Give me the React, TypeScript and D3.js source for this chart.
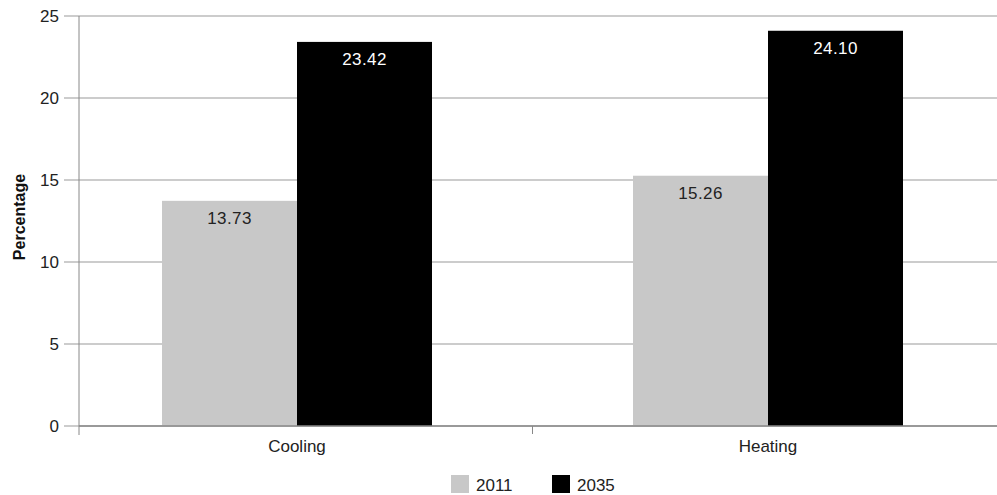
import React from "react";
import * as d3 from "d3";

const categories = ["Cooling", "Heating"];
const series = ["2011", "2035"];
const values2011 = [13.73, 15.26];
const values2035 = [23.42, 24.1];
const yTicks = [0, 5, 10, 15, 20, 25];
const colors = ["#c8c8c8", "#000000"];

export default function App() {
  const W = 997, H = 495;
  const left = 79, right = 997, top = 16, bottom = 426;
  const y = d3.scaleLinear().domain([0, 25]).range([bottom, top]);
  const x = d3.scaleBand().domain(categories).range([61.5, 1003.5]).padding(0);
  const barW = 135;
  const font = "'Liberation Sans', Arial, sans-serif";
  const vals = [values2011, values2035];
  return (
    <svg width={W} height={H} style={{ position: "absolute", left: 0, top: 0, fontFamily: font }}>
      {yTicks.map((t) => (
        <g key={t}>
          <line x1={64} x2={right} y1={y(t)} y2={y(t)} stroke="#999" strokeWidth={1} />
          <text x={59} y={y(t)} dy="0.35em" textAnchor="end" fontSize={17} fill="#222">{t}</text>
        </g>
      ))}
      {categories.map((c, i) => {
        const cx = (x(c) as number) + x.bandwidth() / 2;
        return (
          <g key={c}>
            {series.map((s, j) => {
              const v = vals[j][i];
              const bx = cx - barW + j * barW;
              return (
                <g key={s}>
                  <rect x={bx} y={y(v)} width={barW} height={bottom - y(v)} fill={colors[j]} />
                  <text x={bx + barW / 2} y={y(v) + 23} textAnchor="middle" fontSize={17} letterSpacing={0.4} fill={j === 1 ? "#fff" : "#222"}>
                    {v.toFixed(2)}
                  </text>
                </g>
              );
            })}
            <text x={cx} y={452} textAnchor="middle" fontSize={17} fill="#222">{c}</text>
          </g>
        );
      })}
      <line x1={left} x2={right} y1={bottom} y2={bottom} stroke="#888" strokeWidth={1.5} />
      <line x1={left} x2={left} y1={top} y2={435} stroke="#888" strokeWidth={1} />
      {categories.slice(1).map((c) => (
        <line key={c} x1={x(c) as number} x2={x(c) as number} y1={bottom} y2={434} stroke="#888" strokeWidth={1} />
      ))}
      <text transform={`translate(25,217) rotate(-90)`} textAnchor="middle" fontSize={16} fontWeight="bold" fill="#111">
        Percentage
      </text>
      {series.map((s, j) => (
        <g key={s} transform={`translate(${451 + j * 101},475)`}>
          <rect width={18} height={18} fill={colors[j]} />
          <text x={25} y={16} fontSize={17} fill="#222">{s}</text>
        </g>
      ))}
    </svg>
  );
}
